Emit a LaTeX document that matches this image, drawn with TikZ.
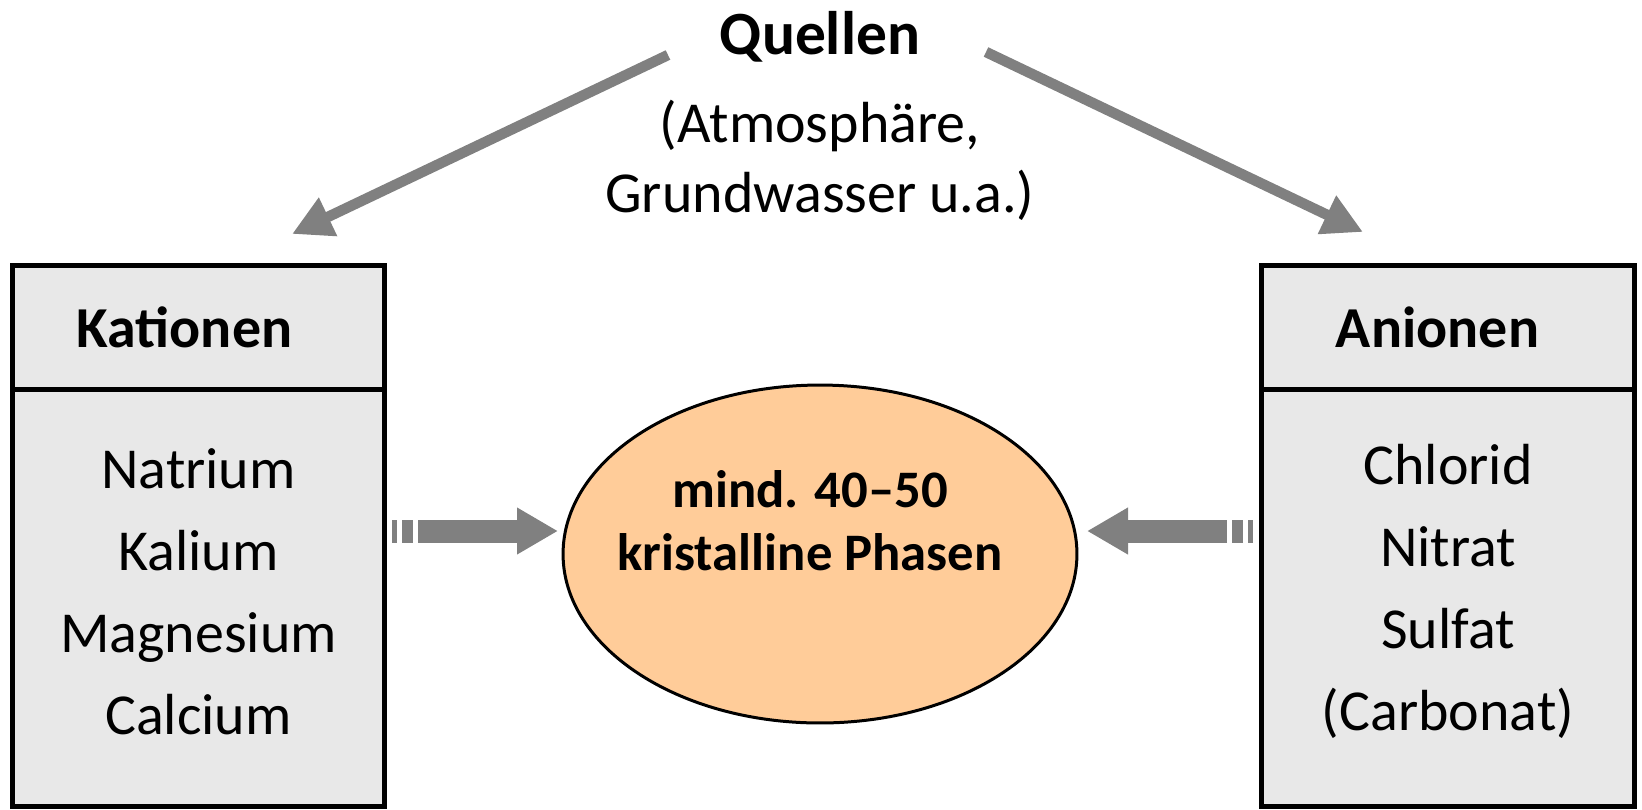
\documentclass[tikz,border=0pt]{standalone}
\usepackage{fontspec}
\setmainfont{Carlito}
\usetikzlibrary{positioning}
\usetikzlibrary{arrows.meta}
\usetikzlibrary{shapes.geometric}

\definecolor{boxgray}{HTML}{E8E8E8}
\definecolor{arrgray}{HTML}{808080}
\definecolor{peach}{HTML}{FFCC99}

\begin{document}
\begin{tikzpicture}[x=0.02cm,y=-0.02cm,
  hdr/.style={draw,line width=0.1cm,fill=boxgray,minimum width=7.46cm,minimum height=2.5cm,outer sep=0pt,inner sep=0pt,font=\fontsize{33}{40}\selectfont\bfseries},
  lst/.style={draw,line width=0.1cm,fill=boxgray,minimum width=7.46cm,minimum height=8.34cm,outer sep=0pt,inner sep=0pt},
  lsttxt/.style={align=center,inner sep=0pt,font=\fontsize{33}{46.7}\selectfont},
  thinarr/.style={arrgray,line width=0.21cm,-{Triangle[length=0.8cm,width=0.8cm]}},
  fatarr/.style={arrgray,line width=0.46cm,-{Triangle[length=0.82cm,width=0.88cm]}},
  stub/.style={arrgray,line width=0.46cm,dash pattern=on 0.1cm off 0.1cm on 0.22cm}]
 \useasboundingbox (0,0) rectangle (1642,809);
 % quellen oben
 \node[font=\fontsize{35}{40}\selectfont\bfseries] (q) at (820,37) {Quellen};
 \node[align=center,font=\fontsize{33}{39.8}\selectfont] (qsrc) at (820,160) {(Atmosphäre,\\Grundwasser u.a.)};
 % kationen / anionen
 \node[hdr] (kat) at (198.5,327.5) {Kationen\hspace*{0.56cm}};
 \node[lst,below=0pt of kat] (katl) {};
 \node[lsttxt] (katt) at ([yshift=0.14cm]katl.center) {Natrium\\Kalium\\Magnesium\\Calcium};
 \node[hdr] (an) at (1448,327.5) {Anionen\hspace*{0.42cm}};
 \node[lst,below=0pt of an] (anl) {};
 \node[lsttxt] (ant) at ([yshift=0.14cm]anl.center) {Chlorid\\Nitrat\\Sulfat\\(Carbonat)};
 % phasen
 \node[ellipse,draw,line width=0.06cm,fill=peach,minimum width=10.28cm,minimum height=6.76cm,inner sep=0pt] (ph) at (820,554) {};
 \node[align=center,font=\fontsize{30}{35.9}\selectfont\bfseries] (phtxt) at (810,521) {mind. 40--50\\kristalline Phasen};
 % pfeile
 \coordinate (qa) at (668,55);
 \coordinate (qb) at (986,52);
 \coordinate (kt) at (292,234);
 \coordinate (at) at (1363,232);
 \draw[thinarr] (qa) -- (kt);
 \draw[thinarr] (qb) -- (at);
 \coordinate (ks) at (392,531);
 \coordinate (kb) at (418,531);
 \coordinate (ke) at (558,531);
 \draw[stub] (ks) -- (413,531);
 \draw[fatarr] (kb) -- (ke);
 \coordinate (as) at (1253,531);
 \coordinate (ab) at (1227,531);
 \coordinate (ae) at (1087,531);
 \draw[stub] (as) -- (1232,531);
 \draw[fatarr] (ab) -- (ae);
\end{tikzpicture}
\end{document}
